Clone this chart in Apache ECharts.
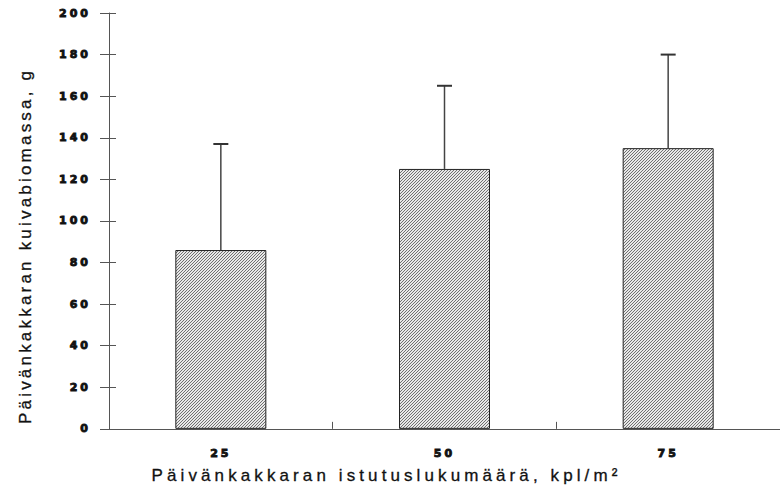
<!DOCTYPE html>
<html><head><meta charset="utf-8">
<script src="https://cdn.jsdelivr.net/npm/echarts@6/dist/echarts.min.js"></script>
<style>html,body{margin:0;padding:0;background:#fff}#c{width:780px;height:489px}</style>
</head><body><div id="c"></div>
<script>
// ---- data ----
const categories = ['25', '50', '75'];
const biomass = [86, 125, 135];
const errorUpper = [137, 165, 180];
const yMin = 0, yMax = 200, yStep = 20;
const xTitle = 'Päivänkakkaran istutuslukumäärä, kpl/m²';
const yTitle = 'Päivänkakkaran kuivabiomassa, g';

// ---- hatch pattern ----
function hatchURL() {
  const n = 3;
  const c = document.createElement('canvas');
  c.width = n; c.height = n;
  const g = c.getContext('2d');
  g.fillStyle = '#e8e8e8'; g.fillRect(0, 0, n, n);
  g.strokeStyle = '#707070'; g.lineWidth = 1;
  g.beginPath();
  g.moveTo(0, n); g.lineTo(n, 0);
  g.moveTo(-1, 1); g.lineTo(1, -1);
  g.moveTo(n - 1, n + 1); g.lineTo(n + 1, n - 1);
  g.stroke();
  return c.toDataURL();
}

const el = document.getElementById('c');
const chart = echarts.init(el, null, { renderer: 'svg' });
const axisColor = '#555';
const textColor = '#111';
const tickFont = { fontFamily: 'DejaVu Sans', fontWeight: 'bold', fontSize: 11, color: textColor, textBorderColor: textColor, textBorderWidth: 0.9 };

const option = {
  animation: false,
  grid: { left: 109, right: -7, top: 13, bottom: 59 },
  xAxis: [
    {
      type: 'category', data: categories, position: 'bottom',
      axisLine: { lineStyle: { color: axisColor, width: 1 } },
      axisTick: { length: 4, lineStyle: { color: axisColor } },
      axisLabel: Object.assign({ margin: 19 }, tickFont),
      name: xTitle, nameLocation: 'middle', nameGap: 38,
      nameTextStyle: { fontFamily: 'Liberation Sans', fontSize: 17, color: textColor, textBorderColor: textColor, textBorderWidth: 0.3, padding: [0, 116, 0, 0] }
    },
    {
      type: 'category', data: categories, position: 'bottom',
      axisLine: { show: false },
      axisTick: { show: true, inside: true, length: 7, lineStyle: { color: axisColor } },
      axisLabel: { show: false }
    }
  ],
  yAxis: [
    {
      type: 'value', min: yMin, max: yMax, interval: yStep, position: 'left',
      splitLine: { show: false },
      axisLine: { show: true, lineStyle: { color: axisColor, width: 1 } },
      axisTick: { show: true, length: 9, lineStyle: { color: axisColor } },
      axisLabel: Object.assign({ margin: 18 }, tickFont),
      name: yTitle, nameLocation: 'middle', nameGap: 75,
      nameTextStyle: { fontFamily: 'Liberation Sans', fontSize: 17, color: textColor, textBorderColor: textColor, textBorderWidth: 0.3, padding: [0, 50, 0, 0] }
    },
    {
      type: 'value', min: yMin, max: yMax, interval: yStep, position: 'left',
      splitLine: { show: false },
      axisLine: { show: false },
      axisTick: { show: true, inside: true, length: 7, lineStyle: { color: axisColor } },
      axisLabel: { show: false }
    }
  ],
  series: [
    {
      type: 'bar', data: biomass, barWidth: 91, xAxisIndex: 0, yAxisIndex: 0,
      itemStyle: {
        color: { image: hatchURL(), repeat: 'repeat', imageWidth: 3, imageHeight: 3 },
        borderColor: '#222', borderWidth: 1
      }
    },
    {
      type: 'custom', xAxisIndex: 0, yAxisIndex: 0, z: 5,
      data: categories.map((c, i) => [i, biomass[i], errorUpper[i]]),
      encode: { x: 0, y: [1, 2] },
      renderItem: function (params, api) {
        const x = api.value(0);
        const lo = api.coord([x, api.value(1)]);
        const hi = api.coord([x, api.value(2)]);
        const hw = 7.5;
        return {
          type: 'group',
          children: [
            { type: 'line', shape: { x1: lo[0], y1: lo[1], x2: hi[0], y2: hi[1] }, style: { stroke: '#444', lineWidth: 1.5 } },
            { type: 'line', shape: { x1: hi[0] - hw, y1: hi[1], x2: hi[0] + hw, y2: hi[1] }, style: { stroke: '#333', lineWidth: 2 } }
          ]
        };
      }
    }
  ]
};

function applySpacing() {
  el.querySelectorAll('text').forEach(function (t) {
    const s = t.textContent;
    if (s === xTitle) t.style.letterSpacing = '4.1px';
    else if (s === yTitle) t.style.letterSpacing = '3.2px';
    else if (/^\d+$/.test(s)) t.style.letterSpacing = '3px';
  });
}
chart.on('finished', applySpacing);
chart.setOption(option);
applySpacing();
setTimeout(applySpacing, 50);
</script>
</body></html>
